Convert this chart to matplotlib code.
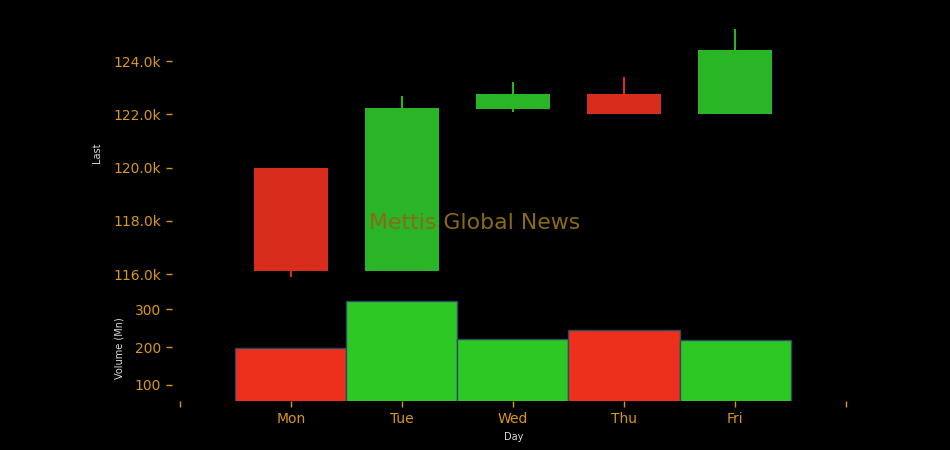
import matplotlib
matplotlib.use("Agg")
import matplotlib.pyplot as plt
from matplotlib.ticker import FuncFormatter

days = ["Mon", "Tue", "Wed", "Thu", "Fri"]
opens = [120000, 116100, 122200, 122750, 122000]
closes = [116100, 122250, 122750, 122000, 124400]
highs = [120000, 122700, 123200, 123400, 125200]
lows = [115900, 116100, 122100, 122000, 122000]
volume = [197, 322, 222, 246, 219]

gold = "#d8971c"
up_c, down_c = "#2ab526", "#d82c1c"
vol_up, vol_down = "#2ec825", "#ec301c"

fig = plt.figure(figsize=(9.5, 4.5), dpi=100, facecolor="black")
ax = fig.add_axes([0.181, 0.376, 0.719, 0.568], facecolor="black")
axv = fig.add_axes([0.181, 0.109, 0.719, 0.233], facecolor="black", sharex=ax)

# candles
for i in range(len(days)):
    c = up_c if closes[i] >= opens[i] else down_c
    ax.vlines(i, lows[i], highs[i], color=c, linewidth=1.5, zorder=1)
    ax.bar(i, closes[i] - opens[i], bottom=opens[i], width=0.67, color=c, zorder=2)

# volume
vcols = [vol_up if closes[i] >= opens[i] else vol_down for i in range(len(days))]
axv.bar(range(len(days)), volume, width=1.0, color=vcols, edgecolor="#2b4a66", linewidth=1)

for a in (ax, axv):
    for s in a.spines.values():
        s.set_visible(False)
    a.tick_params(colors=gold, labelsize=10, length=4, width=1, pad=4)

ax.set_xlim(-1.07, 5.08)
ax.set_ylim(115750, 125350)
ax.set_yticks([116000, 118000, 120000, 122000, 124000])
ax.yaxis.set_major_formatter(FuncFormatter(lambda v, p: f"{v/1000:.1f}k"))
ax.tick_params(axis="x", bottom=False, labelbottom=False)
ax.set_ylabel("Last", color="#dddddd", fontsize=7, labelpad=8)

axv.set_ylim(57, 335)
axv.set_yticks([100, 200, 300])
axv.set_xticks(range(-1, len(days) + 1))
axv.set_xticklabels([""] + days + [""])
axv.set_ylabel("Volume (Mn)", color="#dddddd", fontsize=7, labelpad=7)
axv.set_xlabel("Day", color="#dddddd", fontsize=7)

fig.text(0.5, 0.505, "Mettis Global News", color="#8a6a16", fontsize=15.8,
         ha="center", va="center", zorder=10)

fig.savefig("out.png", facecolor="black")
